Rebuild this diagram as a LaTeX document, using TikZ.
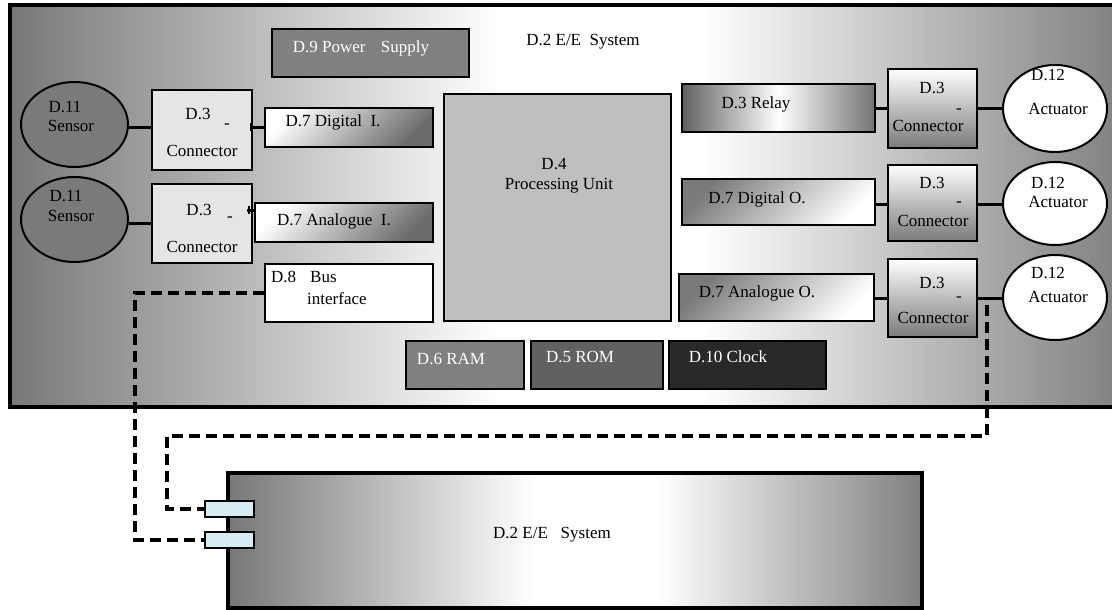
\documentclass[tikz,border=0pt]{standalone}
\usepackage{fontspec}
\setmainfont{Liberation Serif}
\usetikzlibrary{shapes.geometric,calc}
\pgfdeclarehorizontalshading{eeshade}{100bp}{color(0bp)=(black!53); color(25bp)=(black!53); color(47bp)=(white); color(56bp)=(white); color(75bp)=(black!50); color(100bp)=(black!50)}
\definecolor{portblue}{RGB}{214,236,243}
\begin{document}
\begin{tikzpicture}[x=1pt,y=-1pt,
  font=\fontsize{17}{20}\selectfont,
  box/.style={draw, line width=2pt, inner sep=0pt},
  conL/.style={box, fill=black!10, minimum width=100pt, minimum height=79pt},
  conR/.style={box, top color=white, bottom color=black!52, minimum width=89pt, minimum height=78pt},
  inbox/.style={box, top color=white, bottom color=black!58, shading angle=45, minimum width=168pt, minimum height=39pt},
  outbox/.style={box, top color=black!52, bottom color=white, shading angle=45, minimum width=194pt, minimum height=47pt},
  memo/.style={box, minimum height=48pt, text=white},
  sens/.style={draw, line width=2pt, ellipse, fill=black!52, minimum width=107pt, minimum height=85pt, inner sep=0pt},
  act/.style={draw, line width=2pt, ellipse, fill=white, minimum width=104pt, minimum height=86pt, inner sep=0pt},
  lbl/.style={inner sep=0pt},
  wire/.style={line width=3pt},
  tick/.style={line width=2.4pt},
  bus/.style={line width=3.2pt, dash pattern=on 11pt off 6pt},
  port/.style={draw, line width=2pt, fill=portblue, minimum width=49pt, minimum height=16pt, inner sep=0pt}]
\useasboundingbox (0,0) rectangle (1112,610);

% main system
\node[draw, line width=4pt, shading=eeshade, minimum width=1115pt, minimum height=402pt, inner sep=0pt] (sys) at (567.5,206) {};
\node[lbl] (systxt) at (583,42) {D.2 E/E\ \ System};

% power supply
\node[memo, fill=black!50, minimum width=197pt] (psu) at (370.5,53) {};
\node[lbl, text=white] (psutxt) at (361,48) {D.9 Power\hspace{0.9em}Supply};

% sensors
\node[sens] (sen1) at (74.5,124.5) {};
\node[lbl] (sen1a) at (65,107) {D.11};
\node[lbl] (sen1b) at (71,126) {Sensor};
\node[sens] (sen2) at (74.5,219.5) {};
\node[lbl] (sen2a) at (66,196) {D.11};
\node[lbl] (sen2b) at (71,216) {Sensor};

% left connectors
\node[conL] (cl1) at (202,130) {};
\node[lbl] (cl1a) at (198,114) {D.3};
\node[lbl] (cl1b) at (227,126) {-};
\node[lbl] (cl1c) at (202,151) {Connector};
\node[conL] (cl2) at (202,223) {};
\node[lbl] (cl2a) at (199,210) {D.3};
\node[lbl] (cl2b) at (230,219) {-};
\node[lbl] (cl2c) at (202,247) {Connector};

% inputs
\node[inbox] (digi) at (349,127.5) {};
\node[lbl] (digitxt) at (333,122) {D.7 Digital\ \ I.};
\node[inbox, minimum width=178pt] (anai) at (344,222.5) {};
\node[lbl] (anaitxt) at (334,221) {D.7 Analogue\ \ I.};
\node[box, fill=white, minimum width=168pt, minimum height=58pt] (busif) at (349,293) {};
\node[lbl, anchor=west] (busa) at (271,277) {D.8};
\node[lbl, anchor=west] (busb) at (310,277) {Bus};
\node[lbl, anchor=west] (busc) at (307,299) {interface};

% processing unit
\node[box, fill=black!25, minimum width=227pt, minimum height=227pt] (pu) at (557.5,207.5) {};
\node[lbl] (pua) at (554,164) {D.4};
\node[lbl] (pub) at (559,186) {Processing Unit};

% memories / clock
\node[memo, fill=black!50, minimum width=118pt] (ram) at (465,365) {};
\node[lbl, text=white] (ramtxt) at (451,359) {D.6 RAM};
\node[memo, fill=black!62, minimum width=132pt] (rom) at (597,365) {};
\node[lbl, text=white] (romtxt) at (580,357) {D.5 ROM};
\node[memo, fill=black!84, minimum width=157pt] (clk) at (747.5,365) {};
\node[lbl, text=white] (clktxt) at (728,357) {D.10 Clock};

% outputs
\node[box, left color=black!62, right color=black!55, middle color=white, minimum width=193pt, minimum height=48pt] (relay) at (778.5,108) {};
\node[lbl] (relaytxt) at (756,104) {D.3 Relay};
\node[outbox, minimum width=193pt, minimum height=46pt] (digo) at (778.5,202) {};
\node[lbl] (digotxt) at (757,199) {D.7 Digital O.};
\node[outbox, minimum width=195pt, minimum height=47pt] (anao) at (776.5,297.5) {};
\node[lbl] (anaotxt) at (757,293) {D.7 Analogue O.};

% right connectors
\node[conR, minimum height=79pt] (cr1) at (932.5,108.5) {};
\node[lbl] (cr1a) at (932,88) {D.3};
\node[lbl] (cr1b) at (959,111) {-};
\node[lbl] (cr1c) at (928,126) {Connector};
\node[conR, minimum height=76pt] (cr2) at (932.5,203) {};
\node[lbl] (cr2a) at (932,183) {D.3};
\node[lbl] (cr2b) at (959,204) {-};
\node[lbl] (cr2c) at (933,221) {Connector};
\node[conR] (cr3) at (932.5,298) {};
\node[lbl] (cr3a) at (932,283) {D.3};
\node[lbl] (cr3b) at (959,299) {-};
\node[lbl] (cr3c) at (933,318) {Connector};

% actuators
\node[act, minimum height=87pt] (act1) at (1055,108.5) {};
\node[lbl] (act1a) at (1048,75) {D.12};
\node[lbl] (act1b) at (1058,109) {Actuator};
\node[act, minimum height=83pt] (act2) at (1055,203.5) {};
\node[lbl] (act2a) at (1048,183) {D.12};
\node[lbl] (act2b) at (1058,202) {Actuator};
\node[act, minimum height=85pt] (act3) at (1055,297.5) {};
\node[lbl] (act3a) at (1048,273) {D.12};
\node[lbl] (act3b) at (1058,297) {Actuator};

% wires
\draw[wire] (sen1.east |- 0,127) -- (cl1.west |- 0,127);
\draw[wire] (cl1.east |- 0,127) -- (digi.west |- 0,127);
\draw[tick] ([xshift=-2pt]cl1.east |- 0,123) -- ([xshift=-2pt]cl1.east |- 0,131);
\draw[wire] (sen2.east |- 0,223) -- (cl2.west |- 0,223);
\draw[wire] ([xshift=-6pt]cl2.east |- 0,210) -- (anai.west |- 0,210);
\draw[tick] ([xshift=-4pt]cl2.east |- 0,206) -- ([xshift=-4pt]cl2.east |- 0,214);
\draw[wire] (relay.east |- 0,109) -- (cr1.west |- 0,109);
\draw[wire] (cr1.east |- 0,109) -- (act1.west |- 0,109);
\draw[wire] (digo.east |- 0,204) -- (cr2.west |- 0,204);
\draw[wire] (cr2.east |- 0,204) -- (act2.west |- 0,204);
\draw[wire] (anao.east |- 0,298) -- (cr3.west |- 0,298);
\draw[wire] (cr3.east |- 0,298) -- (act3.west |- 0,298);

% lower system
\node[draw, line width=3.5pt, shading=eeshade, minimum width=694pt, minimum height=135pt, inner sep=0pt] (low) at (575,540.5) {};
\node[lbl] (lowtxt) at (552,535) {D.2 E/E\ \ \ System};
\node[port] (p1) at (229.5,509) {};
\node[port] (p2) at (229.5,540) {};

% bus lines
\coordinate (tap) at (987,305);
\draw[bus] (busif.west) -- (135,293) -- (135,540) -- (p2.west);
\draw[bus] (tap) -- (987,436) -- (167,436) -- (167,509) -- (p1.west);
\end{tikzpicture}
\end{document}
